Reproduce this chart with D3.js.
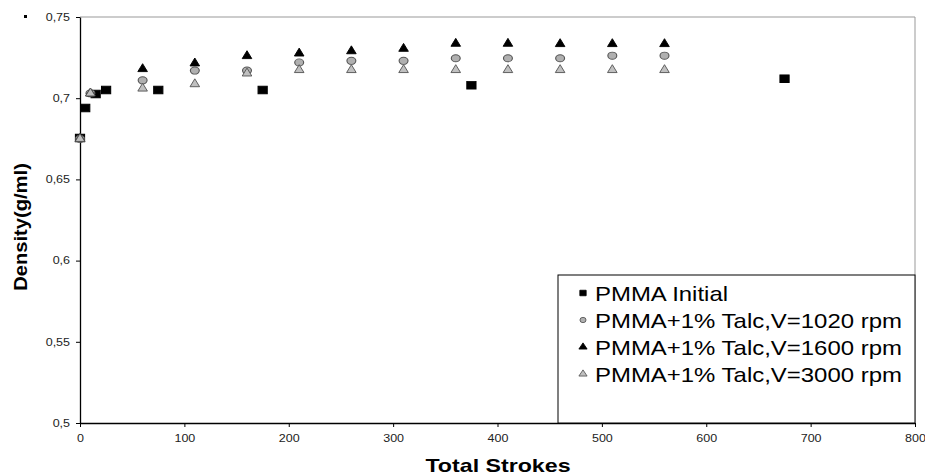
<!DOCTYPE html>
<html>
<head>
<meta charset="utf-8">
<script src="https://cdn.jsdelivr.net/npm/d3@7"></script>
<style>
  body { margin: 0; background: #fff; }
  svg { font-family: Arial, "Liberation Sans", sans-serif; }
</style>
</head>
<body>
<svg></svg>
<script>
// data
const initialX = [0, 5, 15, 25, 75, 175, 375, 675];
const initialY = [0.6755, 0.694, 0.7026, 0.705, 0.705, 0.705, 0.708, 0.712];

const talcX = [0, 10, 60, 110, 160, 210, 260, 310, 360, 410, 460, 510, 560];
const v1020 = [0.675, 0.703, 0.711, 0.717, 0.717, 0.722, 0.723, 0.723, 0.7246, 0.7246, 0.7246, 0.7262, 0.7262];
const v1600 = [0.675, 0.703, 0.718, 0.7215, 0.726, 0.7276, 0.729, 0.7305, 0.7336, 0.7336, 0.7334, 0.7334, 0.7334];
const v3000 = [0.675, 0.703, 0.706, 0.7087, 0.7153, 0.7174, 0.7174, 0.7174, 0.7174, 0.7174, 0.7174, 0.7174, 0.7174];

const xTicks = [0, 100, 200, 300, 400, 500, 600, 700, 800];
const yTicks = [0.5, 0.55, 0.6, 0.65, 0.7, 0.75];

const legendLabels = ["PMMA Initial", "PMMA+1% Talc,V=1020 rpm", "PMMA+1% Talc,V=1600 rpm", "PMMA+1% Talc,V=3000 rpm"];

const width = 925, height = 475;
const m = { left: 80, right: 915, top: 17, bottom: 423 };

const svg = d3.select("svg").attr("width", width).attr("height", height);

const x = d3.scaleLinear().domain([0, 800]).range([m.left, m.right]);
const y = d3.scaleLinear().domain([0.5, 0.75]).range([m.bottom, m.top]);

const fmt = d => String(d).replace(".", ",");

// the original picture is a bit wider than tall, so texts get widened
function widen(sel, f) {
    sel.each(function () {
        const w = this.getComputedTextLength();
        d3.select(this).attr("textLength", w * f).attr("lengthAdjust", "spacingAndGlyphs");
    });
}

// plot frame, grey on top and right
svg.append("path")
    .attr("d", `M${m.left},${m.top}H${m.right}V${m.bottom}`)
    .attr("fill", "none")
    .attr("stroke", "#999")
    .attr("stroke-width", 1);

const xAxis = svg.append("g")
    .attr("transform", `translate(0,${m.bottom})`)
    .call(d3.axisBottom(x).tickValues(xTicks).tickSize(4).tickSizeOuter(0).tickPadding(8));

const yAxis = svg.append("g")
    .attr("transform", `translate(${m.left},0)`)
    .call(d3.axisLeft(y).tickValues(yTicks).tickFormat(fmt).tickSize(4).tickSizeOuter(0).tickPadding(6));

[xAxis, yAxis].forEach(a => {
    a.select(".domain").attr("stroke", "#000").attr("stroke-width", 1.3);
    a.selectAll(".tick line").attr("stroke", "#000");
    a.selectAll("text").attr("font-size", 10).attr("fill", "#222")
        .attr("font-family", "Arial, 'Liberation Sans', sans-serif")
        .call(widen, 1.25);
});

// axis titles
svg.append("text")
    .attr("x", 498).attr("y", 472)
    .attr("text-anchor", "middle")
    .attr("font-weight", "bold").attr("font-size", 19)
    .text("Total Strokes")
    .call(widen, 1.22);

svg.append("text")
    .attr("transform", "translate(27,227) rotate(-90)")
    .attr("text-anchor", "middle")
    .attr("font-weight", "bold").attr("font-size", 18)
    .text("Density(g/ml)")
    .call(widen, 1.12);

// small stray mark top-left
svg.append("rect").attr("x", 24).attr("y", 15).attr("width", 3).attr("height", 3).attr("fill", "#000");

const sq = d3.symbol().type(d3.symbolSquare);
const tri = d3.symbol().type(d3.symbolTriangle);
const circ = d3.symbol().type(d3.symbolCircle);

function drawSeries(xs, ys, gen, size, sx, fill, stroke) {
    svg.append("g").selectAll("path")
        .data(xs.map((d, i) => [d, ys[i]]))
        .join("path")
        .attr("transform", d => `translate(${x(d[0])},${y(d[1])}) scale(${sx},1)`)
        .attr("d", gen.size(size)())
        .attr("fill", fill)
        .attr("stroke", stroke)
        .attr("stroke-width", 0.9);
}

drawSeries(initialX, initialY, sq, 58, 1.2, "#000", "#000");
drawSeries(talcX, v1020, circ, 40, 1.25, "#b0b0b0", "#555");
drawSeries(talcX, v1600, tri, 36, 1.05, "#000", "#000");
drawSeries(talcX, v3000, tri, 36, 1.05, "#c0c0c0", "#555");

// legend
const legend = svg.append("g");
legend.append("rect")
    .attr("x", 558).attr("y", 275)
    .attr("width", m.right - 558).attr("height", m.bottom - 275)
    .attr("fill", "#fff").attr("stroke", "#000").attr("stroke-width", 1);

const legendSym = [
    { gen: sq, size: 30, fill: "#000", stroke: "#000" },
    { gen: circ, size: 22, fill: "#b0b0b0", stroke: "#555" },
    { gen: tri, size: 22, fill: "#000", stroke: "#000" },
    { gen: tri, size: 22, fill: "#c0c0c0", stroke: "#555" }
];

legendLabels.forEach((lab, i) => {
    const cy = 293 + i * 27;
    const s = legendSym[i];
    legend.append("path")
        .attr("transform", `translate(583,${cy}) scale(1.15,1)`)
        .attr("d", s.gen.size(s.size)())
        .attr("fill", s.fill).attr("stroke", s.stroke).attr("stroke-width", 0.8);
    legend.append("text")
        .attr("x", 595).attr("y", cy)
        .attr("dy", "0.36em")
        .attr("font-size", 21)
        .text(lab)
        .call(widen, 1.14);
});
</script>
</body>
</html>
